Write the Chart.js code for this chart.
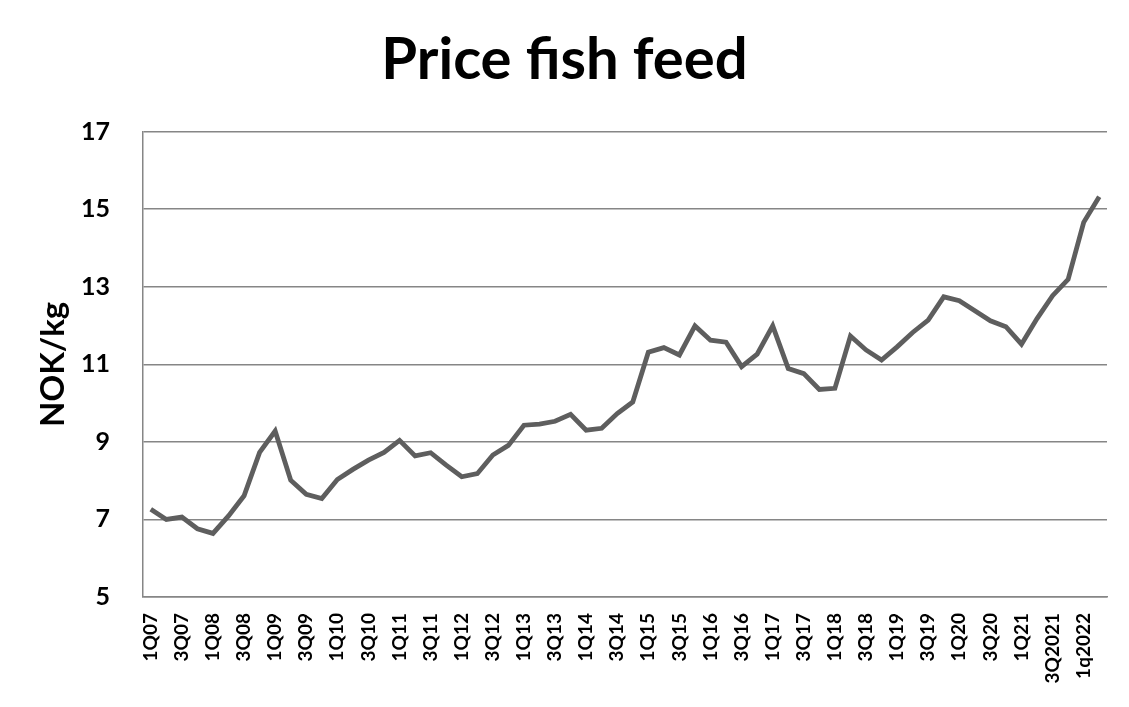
<!DOCTYPE html>
<html>
<head>
<meta charset="utf-8">
<title>Price fish feed</title>
<script src="https://cdn.jsdelivr.net/npm/chart.js@4/dist/chart.umd.min.js"></script>
<style>
  html, body { margin: 0; padding: 0; background: #fff; }
  #wrap { width: 1129px; height: 707px; position: relative; }
</style>
</head>
<body>
<div id="wrap"><canvas id="graph01"></canvas></div>
<script>
// quarters, 1Q07 .. 2Q22 (only every second one is printed on the axis)
const quarters = [
    '1Q07', '2Q07', '3Q07', '4Q07', '1Q08', '2Q08', '3Q08', '4Q08',
    '1Q09', '2Q09', '3Q09', '4Q09', '1Q10', '2Q10', '3Q10', '4Q10',
    '1Q11', '2Q11', '3Q11', '4Q11', '1Q12', '2Q12', '3Q12', '4Q12',
    '1Q13', '2Q13', '3Q13', '4Q13', '1Q14', '2Q14', '3Q14', '4Q14',
    '1Q15', '2Q15', '3Q15', '4Q15', '1Q16', '2Q16', '3Q16', '4Q16',
    '1Q17', '2Q17', '3Q17', '4Q17', '1Q18', '2Q18', '3Q18', '4Q18',
    '1Q19', '2Q19', '3Q19', '4Q19', '1Q20', '2Q20', '3Q20', '4Q20',
    '1Q21', '2Q21', '3Q2021', '4Q21', '1q2022', '2q2022'
];

// NOK/kg
const feedPrice = [
    7.26, 7.00, 7.06, 6.76, 6.64, 7.09, 7.61, 8.73, 9.28, 8.01,
    7.65, 7.54, 8.03, 8.29, 8.53, 8.73, 9.04, 8.64, 8.72, 8.40,
    8.10, 8.18, 8.66, 8.91, 9.43, 9.46, 9.53, 9.71, 9.30, 9.35,
    9.73, 10.03, 11.31, 11.43, 11.24, 11.99, 11.62, 11.57, 10.94, 11.26,
    11.99, 10.89, 10.76, 10.35, 10.38, 11.73, 11.37, 11.11, 11.45, 11.82,
    12.14, 12.74, 12.64, 12.38, 12.12, 11.97, 11.52, 12.18, 12.77, 13.19,
    14.66, 15.32
];

const yMin = 5;
const yMax = 17;
const yStep = 2;

const FONT = 'Lato, "Open Sans", sans-serif';
const GRID = '#868686';

const line01 = document.getElementById('graph01');

new Chart(line01, {
    type: 'line',
    data: {
        labels: quarters,
        datasets: [{
            label: 'Price fish feed',
            data: feedPrice,
            borderColor: '#5e5e5e',
            borderWidth: 4.8,
            pointRadius: 0,
            tension: 0,
            fill: false
        }]
    },
    options: {
        responsive: true,
        maintainAspectRatio: false,
        animation: false,
        layout: {
            padding: { left: 22, right: 22, top: 0, bottom: 0 }
        },
        plugins: {
            legend: { display: false },
            tooltip: { enabled: false },
            title: {
                display: true,
                text: 'Price fish feed',
                color: '#000',
                font: { family: FONT, size: 58, weight: 'bold' },
                padding: { top: 25, bottom: 37 }
            }
        },
        scales: {
            x: {
                offset: true,
                grid: { display: false, drawTicks: false },
                border: { display: true, color: GRID, width: 1.5 },
                ticks: {
                    autoSkip: false,
                    maxRotation: 90,
                    minRotation: 90,
                    padding: 16,
                    color: '#000',
                    font: { family: FONT, size: 19, weight: 'bold' },
                    callback: function (value, index) {
                        return index % 2 === 0 ? quarters[index] : '';
                    }
                },
                afterFit: function (scale) {
                    scale.height = 110;
                    scale.paddingLeft = 0;
                    scale.paddingRight = 0;
                }
            },
            y: {
                min: yMin,
                max: yMax,
                grid: { color: GRID, lineWidth: 1.5, drawTicks: false },
                border: { display: true, color: GRID, width: 1.5 },
                ticks: {
                    stepSize: yStep,
                    padding: 33,
                    color: '#000',
                    font: { family: FONT, size: 25, weight: 'bold' }
                },
                title: {
                    display: true,
                    text: 'NOK/kg',
                    color: '#000',
                    font: { family: FONT, size: 33, weight: 'bold' },
                    padding: { top: 12, bottom: 0 }
                },
                afterFit: function (scale) { scale.width = 121; }
            }
        }
    }
});
</script>
</body>
</html>
